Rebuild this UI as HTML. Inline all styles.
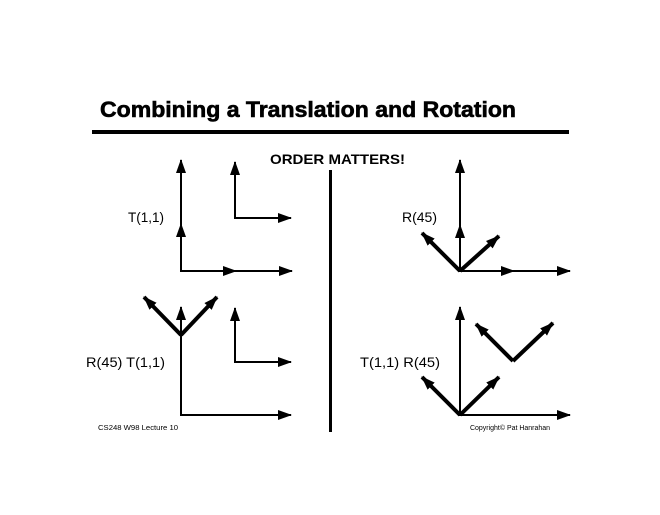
<!DOCTYPE html>
<html><head><style>html,body{margin:0;padding:0;background:#fff}</style></head><body>
<svg width="660" height="510" viewBox="0 0 660 510" xmlns="http://www.w3.org/2000/svg">
<defs>
<marker id="a" markerUnits="userSpaceOnUse" markerWidth="14" markerHeight="10" refX="13" refY="5" orient="auto"><path d="M0,0 L14,5 L0,10 Z" fill="#000"/></marker>
</defs>
<rect width="660" height="510" fill="#fff"/>
<text x="100" y="117" font-family="Liberation Sans, sans-serif" font-weight="bold" font-size="22" textLength="416" lengthAdjust="spacingAndGlyphs" stroke="#000" stroke-width="0.6">Combining a Translation and Rotation</text>
<rect x="92" y="130" width="477" height="4" fill="#000"/>
<text x="270" y="164" font-family="Liberation Sans, sans-serif" font-weight="bold" font-size="14" textLength="135" lengthAdjust="spacingAndGlyphs">ORDER MATTERS!</text>
<rect x="329" y="170" width="3" height="262" fill="#000"/>
<g font-family="Liberation Sans, sans-serif" font-size="14">
<text x="128" y="222" textLength="36" lengthAdjust="spacingAndGlyphs">T(1,1)</text>
<text x="402" y="222">R(45)</text>
<text x="86" y="367" textLength="79" lengthAdjust="spacingAndGlyphs">R(45) T(1,1)</text>
<text x="360" y="367" textLength="80" lengthAdjust="spacingAndGlyphs">T(1,1) R(45)</text>
</g>
<g font-family="Liberation Sans, sans-serif" font-size="7">
<text x="98" y="430" textLength="80" lengthAdjust="spacingAndGlyphs">CS248 W98 Lecture 10</text>
<text x="470" y="430" textLength="80" lengthAdjust="spacingAndGlyphs">Copyright© Pat Hanrahan</text>
</g>
<g stroke="#000" stroke-width="2" fill="none" marker-end="url(#a)">
<line x1="181" y1="272" x2="181" y2="224"/>
<line x1="181" y1="224" x2="181" y2="160"/>
<line x1="180" y1="271" x2="236" y2="271"/>
<line x1="236" y1="271" x2="292" y2="271"/>
<line x1="235" y1="219" x2="235" y2="162"/>
<line x1="234" y1="218" x2="291" y2="218"/>
<line x1="460" y1="272" x2="460" y2="225"/>
<line x1="460" y1="225" x2="460" y2="160"/>
<line x1="459" y1="271" x2="514" y2="271"/>
<line x1="514" y1="271" x2="570" y2="271"/>
<line x1="181" y1="416" x2="181" y2="307"/>
<line x1="180" y1="415" x2="291" y2="415"/>
<line x1="235" y1="363" x2="235" y2="308"/>
<line x1="234" y1="362" x2="291" y2="362"/>
<line x1="460" y1="416" x2="460" y2="307"/>
<line x1="459" y1="415" x2="570" y2="415"/>
</g>
<g stroke="#000" stroke-width="4" fill="none" marker-end="url(#a)">
<line x1="460" y1="271" x2="499" y2="236"/>
<line x1="460" y1="271" x2="422" y2="233"/>
<line x1="181" y1="335" x2="217" y2="297"/>
<line x1="181" y1="335" x2="144" y2="297"/>
<line x1="460" y1="415" x2="499" y2="377"/>
<line x1="460" y1="415" x2="422" y2="377"/>
<line x1="513" y1="361" x2="553" y2="323"/>
<line x1="513" y1="361" x2="476" y2="324"/>
</g>
</svg>
</body></html>
